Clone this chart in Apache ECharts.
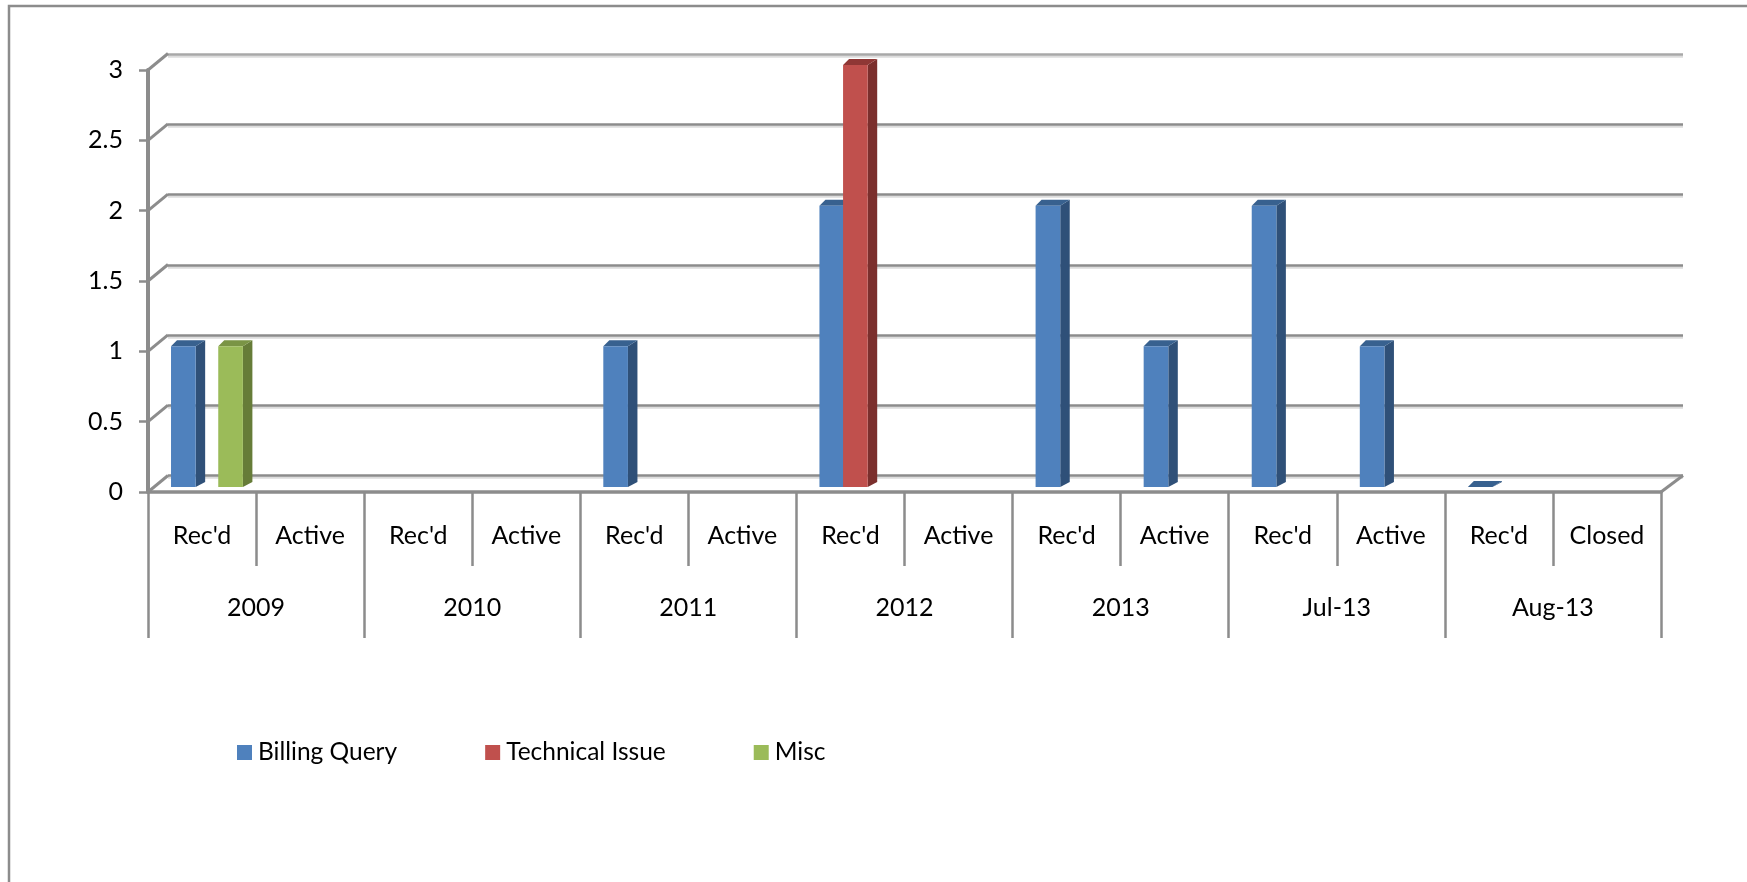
<!DOCTYPE html>
<html>
<head>
<meta charset="utf-8">
<style>html,body{margin:0;padding:0;background:#fff}#c{width:1747px;height:882px}</style>
<script src="https://cdn.jsdelivr.net/npm/echarts@6/dist/echarts.min.js"></script>
</head>
<body>
<div id="c"></div>
<script>
const statusLabels = ["Rec'd","Active","Rec'd","Active","Rec'd","Active","Rec'd","Active","Rec'd","Active","Rec'd","Active","Rec'd","Closed"];
const periodLabels = ["2009","2010","2011","2012","2013","Jul-13","Aug-13"];
const billingQuery = [1,null,null,null,1,null,2,null,2,1,2,1,0,null];
const technicalIssue = [null,null,null,null,null,null,3,null,null,null,null,null,null,null];
const misc = [1,null,null,null,null,null,null,null,null,null,null,null,null,null];
const yTicks = [0,0.5,1,1.5,2,2.5,3];

const GRAY = '#8c8c8c';
const FONT = 'Lato, Carlito, sans-serif';
const chart = echarts.init(document.getElementById('c'), null, {renderer:'canvas'});

function bar3d(slot, front, side, top) {
  return function (params, api) {
    const v = api.value(1);
    if (v == null || isNaN(v)) return null;
    const band = api.size([1, 0])[0];
    const b = api.coord([api.value(0), 0]);
    const t = api.coord([api.value(0), v]);
    const x0 = b[0] - band / 2 + band * (0.213 + slot * 0.2185);
    const x1 = x0 + band * 0.228;
    const yb = b[1] - 5, yt = t[1] - 5;
    const dxL = 6, dxR = 9.5, dyT = 6, dyB = 5;
    return {type: 'group', children: [
      {type: 'polygon', shape: {points: [[x1, yt], [x1 + dxR, yt - dyT], [x1 + dxR, yb - dyB], [x1, yb]]}, style: {fill: side}},
      {type: 'polygon', shape: {points: [[x0, yt], [x0 + dxL, yt - dyT], [x1 + dxR, yt - dyT], [x1, yt]]}, style: {fill: top}},
      {type: 'rect', shape: {x: x0, y: yt, width: x1 - x0, height: yb - yt}, style: {fill: front}}
    ]};
  };
}
function barSeries(name, values, slot, front, side, top) {
  return {
    name, type: 'custom', xAxisIndex: 0, yAxisIndex: 0, z: 5 + slot,
    itemStyle: {color: front},
    encode: {x: 0, y: 1},
    data: values.map((v, i) => [i, v]),
    renderItem: bar3d(slot, front, side, top)
  };
}

chart.setOption({
  animation: false,
  backgroundColor: '#fff',
  textStyle: {fontFamily: FONT},
  graphic: [
    {type: 'polyline', silent: true, shape: {points: [[9, 882], [9, 6], [1747, 6]]}, style: {fill: null, stroke: GRAY, lineWidth: 2.5}}
  ],
  legend: {
    left: 232, top: 735, itemWidth: 15, itemHeight: 15, itemGap: 88, icon: 'rect',
    data: ['Billing Query', 'Technical Issue', 'Misc'],
    textStyle: {fontFamily: FONT, fontSize: 24.5, color: '#000', padding: [0, 0, 0, 1]}
  },
  grid: [
    {left: 148, top: 70, width: 1513, height: 422},
    {left: 168, top: 54, width: 1515, height: 421.5}
  ],
  xAxis: [
    {gridIndex: 0, type: 'category', position: 'bottom', data: statusLabels,
      axisLine: {show: true, lineStyle: {color: GRAY, width: 3.5}},
      axisTick: {show: true, length: 74, lineStyle: {color: GRAY, width: 2.5}},
      axisLabel: {interval: 0, margin: 31, fontSize: 25, color: '#000', fontFamily: FONT}},
    {gridIndex: 0, type: 'category', position: 'bottom', data: periodLabels,
      axisLine: {show: false},
      axisTick: {show: true, length: 146, lineStyle: {color: GRAY, width: 2.5}},
      axisLabel: {interval: 0, margin: 103, fontSize: 25, color: '#000', fontFamily: FONT}},
    {gridIndex: 1, type: 'value', show: false, min: 0, max: 1}
  ],
  yAxis: [
    {gridIndex: 0, type: 'value', min: 0, max: 3, interval: 0.5,
      axisLine: {show: true, lineStyle: {color: GRAY, width: 4}},
      axisTick: {show: true, length: 9, lineStyle: {color: GRAY, width: 2.5}},
      axisLabel: {margin: 25, fontSize: 25, color: '#000', fontFamily: FONT, padding: [3, 0, 0, 0]},
      splitLine: {show: false}},
    {gridIndex: 1, type: 'value', min: 0, max: 3, interval: 0.5,
      axisLine: {show: false}, axisTick: {show: false}, axisLabel: {show: false},
      splitLine: {show: true, lineStyle: {color: [GRAY, GRAY, GRAY, GRAY, GRAY, GRAY, '#a8a8a8'], width: 2.5, shadowColor: '#dcdcdc', shadowBlur: 0, shadowOffsetY: 2}}}
  ],
  series: [
    {
      name: 'wall', type: 'custom', xAxisIndex: 0, yAxisIndex: 0, z: 3, silent: true,
      encode: {y: 0}, data: yTicks.map(v => [v]),
      renderItem: function (params, api) {
        const v = api.value(0);
        const cs = params.coordSys;
        const y = api.coord([0, v])[1];
        const seg = (x1, y1, x2, y2) => ({type: 'line', shape: {x1, y1, x2, y2}, style: {stroke: GRAY, lineWidth: 3}});
        const kids = [seg(cs.x, y, cs.x + 20, y - 16.5)];
        if (v === 0) kids.push(seg(cs.x + cs.width, y, cs.x + cs.width + 22, y - 16.5));
        return {type: 'group', children: kids};
      }
    },
    barSeries('Billing Query', billingQuery, 0, '#4F81BD', '#2F5078', '#38618F'),
    barSeries('Technical Issue', technicalIssue, 1, '#C0504D', '#7B2F2D', '#8F3735'),
    barSeries('Misc', misc, 2, '#9BBB59', '#667C38', '#7A9445')
  ]
});
</script>
</body>
</html>
